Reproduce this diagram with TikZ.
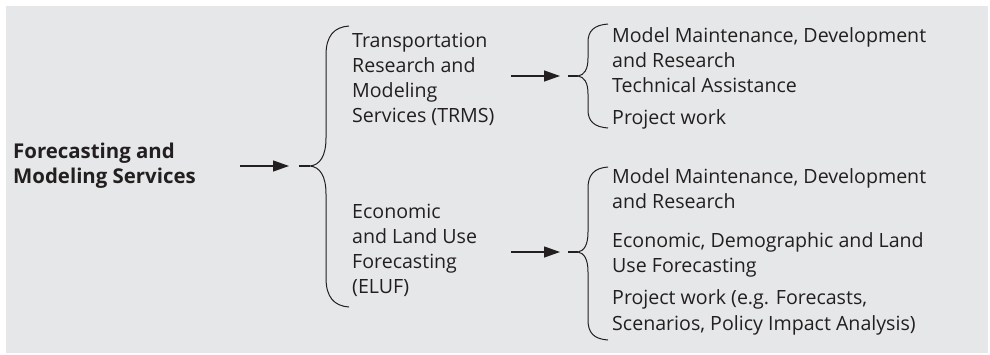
\documentclass[tikz,border=0pt]{standalone}
\usepackage{fontspec}
\setmainfont{Open Sans}
\usetikzlibrary{arrows.meta}
\definecolor{bgc}{HTML}{E6E7E8}
\definecolor{ink}{HTML}{231F20}
\tikzset{
  txt/.style={anchor=base west, inner sep=0pt, text=ink, font=\fontsize{19.6}{25}\selectfont},
  btxt/.style={txt, font=\fontsize{20.4}{25}\selectfont\bfseries},
  arr/.style={draw=ink, line width=1.3pt, -{Triangle[length=16pt,width=11pt]}},
  brace/.style={draw=ink, line width=1pt},
  tipdash/.style={draw=ink, line width=2pt},
}
\begin{document}
\begin{tikzpicture}[x=1pt,y=-1pt]
\useasboundingbox (0,0) rectangle (990,354);
\fill[bgc] (6,6) rectangle (988,353);
% main
\node[btxt] (m1) at (13,158) {Forecasting and};
\node[btxt] (m2) at (13,183) {Modeling Services};
% TRMS
\node[txt] (t1) at (352,47) {Transportation};
\node[txt] (t2) at (352,72) {Research and};
\node[txt] (t3) at (352,97) {Modeling};
\node[txt] (t4) at (352,122) {Services (TRMS)};
% ELUF
\node[txt] (e1) at (352,218) {Economic};
\node[txt] (e2) at (352,243) {and Land Use};
\node[txt] (e3) at (352,268) {Forecasting};
\node[txt] (e4) at (352,293) {(ELUF)};
% right group 1
\node[txt] (r1) at (612,42) {Model Maintenance, Development};
\node[txt] (r2) at (612,67) {and Research};
\node[txt] (r3) at (612,92) {Technical Assistance};
\node[txt] (r4) at (612,124) {Project work};
% right group 2
\node[txt] (s1) at (612,183) {Model Maintenance, Development};
\node[txt] (s2) at (612,208) {and Research};
\node[txt] (s3) at (612,247) {Economic, Demographic and Land};
\node[txt] (s4) at (612,272) {Use Forecasting};
\node[txt] (s5) at (612,304) {Project work (e.g. Forecasts,};
\node[txt] (s6) at (612,330) {Scenarios, Policy Impact Analysis)};
% coordinates
\coordinate (a1s) at (240,166);
\coordinate (a1e) at (289,166);
\coordinate (d1s) at (299,166);
\coordinate (c1) at (310,166);
\coordinate (a2s) at (511,76);
\coordinate (a2e) at (560,76);
\coordinate (d2s) at (568,76);
\coordinate (c2) at (578,76);
\coordinate (a3s) at (511,252);
\coordinate (a3e) at (560,252);
\coordinate (d3s) at (568,252);
\coordinate (c3) at (578,252);
% arrows
\draw[arr] (a1s) -- (a1e);
\draw[arr] (a2s) -- (a2e);
\draw[arr] (a3s) -- (a3e);
\draw[tipdash] (d1s) -- (c1);
\draw[tipdash] (d2s) -- (c2);
\draw[tipdash] (d3s) -- (c3);
% braces
\draw[brace] (349,26) .. controls (334,27) and (326,36) .. (326,55) -- (326,138)
  .. controls (326,156) and (320,165) .. (c1)
  .. controls (320,167) and (326,176) .. (326,194) -- (326,278)
  .. controls (326,297) and (334,306) .. (349,307);
\draw[brace] (608,24) .. controls (594,25) and (588,31) .. (588,42) -- (588,58)
  .. controls (588,70) and (584,75) .. (c2)
  .. controls (584,77) and (588,82) .. (588,94) -- (588,110)
  .. controls (588,121) and (594,127) .. (608,128);
\draw[brace] (608,167) .. controls (594,168) and (588,175) .. (588,188) -- (588,232)
  .. controls (588,245) and (584,251) .. (c3)
  .. controls (584,253) and (588,259) .. (588,272) -- (588,320)
  .. controls (588,333) and (594,339) .. (608,340);
\end{tikzpicture}
\end{document}
